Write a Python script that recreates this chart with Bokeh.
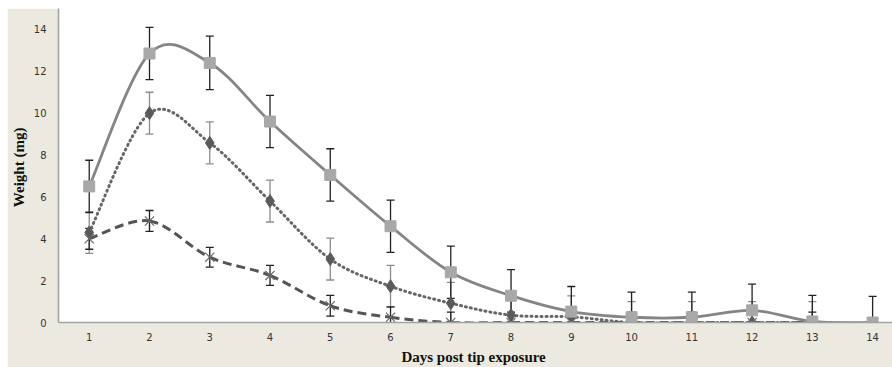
from bokeh.plotting import figure
from bokeh.models import Range1d, ColumnDataSource, Whisker, TeeHead, FixedTicker
from bokeh.embed import file_html
from bokeh.resources import INLINE

# ---- data ----
days = [1, 2, 3, 4, 5, 6, 7, 8, 9, 10, 11, 12, 13, 14]
sq_vals = [6.5, 12.85, 12.4, 9.6, 7.05, 4.6, 2.4, 1.28, 0.52, 0.25, 0.25, 0.58, 0.05, 0.0]
sq_err = [1.25, 1.25, 1.28, 1.25, 1.25, 1.25, 1.25, 1.25, 1.2, 1.2, 1.2, 1.25, 1.25, 1.25]

dm_days = [1, 2, 3, 4, 5, 6, 7, 8, 9, 10, 11, 12, 13]
dm_vals = [4.3, 10.0, 8.58, 5.8, 3.03, 1.73, 0.92, 0.35, 0.27, 0.0, 0.0, 0.0, 0.0]
dm_err = [1.0, 1.0, 1.0, 1.0, 1.0, 1.0, 1.0, 1.0, 1.0, 1.0, 1.0, 1.0, 1.0]

xx_days = [1, 2, 3, 4, 5, 6, 7, 8, 9, 10, 11, 12, 13]
xx_vals = [4.0, 4.85, 3.12, 2.25, 0.8, 0.25, 0.0, 0.0, 0.0, 0.0, 0.0, 0.0, 0.0]
xx_err = [0.5, 0.5, 0.47, 0.48, 0.5, 0.5, 0.5, 0.5, 0.5, 0.5, 0.5, 0.5, 0.5]

y_ticks = [0, 2, 4, 6, 8, 10, 12, 14]

BEIGE = "#ECE9E0"

p = figure(width=885, height=359, output_backend="svg", toolbar_location=None,
           x_range=Range1d(0.49, 14.33), y_range=Range1d(0, 15),
           min_border_left=42, min_border_right=0, min_border_top=0, min_border_bottom=44,
           background_fill_color="white", border_fill_color=BEIGE)
p.margin = (8, 0, 0, 7)
p.outline_line_color = None
p.grid.grid_line_color = None


def smooth(xs, ys):
    # cubic Bezier segments through the data points (Excel-style smoothing)
    n = len(xs)
    seg = dict(x0=[], y0=[], x1=[], y1=[], cx0=[], cy0=[], cx1=[], cy1=[])
    for i in range(n - 1):
        xa, ya = xs[max(i - 1, 0)], ys[max(i - 1, 0)]
        xb, yb = xs[i], ys[i]
        xc, yc = xs[i + 1], ys[i + 1]
        xd, yd = xs[min(i + 2, n - 1)], ys[min(i + 2, n - 1)]
        seg["x0"].append(xb); seg["y0"].append(yb)
        seg["x1"].append(xc); seg["y1"].append(yc)
        seg["cx0"].append(xb + (xc - xa) / 6.0); seg["cy0"].append(yb + (yc - ya) / 6.0)
        seg["cx1"].append(xc - (xd - xb) / 6.0); seg["cy1"].append(yc - (yd - yb) / 6.0)
    return ColumnDataSource(seg)


# lines
p.bezier(x0="x0", y0="y0", x1="x1", y1="y1", cx0="cx0", cy0="cy0", cx1="cx1", cy1="cy1",
         source=smooth(dm_days, dm_vals), line_color="#666666", line_width=3,
         line_dash="1 4", line_cap="round")
p.bezier(x0="x0", y0="y0", x1="x1", y1="y1", cx0="cx0", cy0="cy0", cx1="cx1", cy1="cy1",
         source=smooth(xx_days, xx_vals), line_color="#555555", line_width=3,
         line_dash="9 5")
p.bezier(x0="x0", y0="y0", x1="x1", y1="y1", cx0="cx0", cy0="cy0", cx1="cx1", cy1="cy1",
         source=smooth(days, sq_vals), line_color="#858585", line_width=2.8)

# error bars
def add_err(xs, ys, es, color, width):
    src = ColumnDataSource(dict(x=xs, up=[y + e for y, e in zip(ys, es)],
                                lo=[y - e for y, e in zip(ys, es)]))
    w = Whisker(source=src, base="x", upper="up", lower="lo", dimension="height",
                line_color=color, line_width=width,
                upper_head=TeeHead(size=8, line_color=color, line_width=width),
                lower_head=TeeHead(size=8, line_color=color, line_width=width))
    p.add_layout(w)

add_err(dm_days, dm_vals, dm_err, "#8C8C8C", 1.3)
add_err(xx_days, xx_vals, xx_err, "#222222", 1.3)
add_err(days, sq_vals, sq_err, "#222222", 1.3)

# markers
p.scatter(dm_days, dm_vals, marker="diamond", size=13, fill_color="#5A5A5A", line_color="#5A5A5A")
p.scatter(xx_days, xx_vals, marker="x", size=13, line_color="#6A6A6A", line_width=1.2)
p.scatter(days, sq_vals, marker="square", size=11, fill_color="#A8A8A8", line_color="#A8A8A8")

# axes
p.xaxis.ticker = FixedTicker(ticks=days)
p.yaxis.ticker = FixedTicker(ticks=y_ticks)
for ax in (p.xaxis[0], p.yaxis[0]):
    ax.axis_line_color = "#A3A3A3"
    ax.axis_line_width = 1.6
    ax.major_tick_line_color = None
    ax.minor_tick_line_color = None
    ax.major_tick_in = 0
    ax.major_tick_out = 0
    ax.minor_tick_in = 0
    ax.minor_tick_out = 0
    ax.major_label_text_font = "DejaVu Sans"
    ax.major_label_text_font_size = "10px"
    ax.major_label_text_color = "#333333"
    ax.axis_label_text_font = "Liberation Serif"
    ax.axis_label_text_font_style = "bold"
    ax.axis_label_text_font_size = "15px"
    ax.axis_label_text_color = "#111111"

p.xaxis.axis_label = "Days post tip  exposure"
p.yaxis.axis_label = "Weight  (mg)"
p.xaxis.major_label_standoff = 10
p.xaxis.axis_label_standoff = 5
p.yaxis.major_label_standoff = 12
p.yaxis.axis_label_standoff = 4

open("out.html", "w").write(file_html(p, INLINE))
